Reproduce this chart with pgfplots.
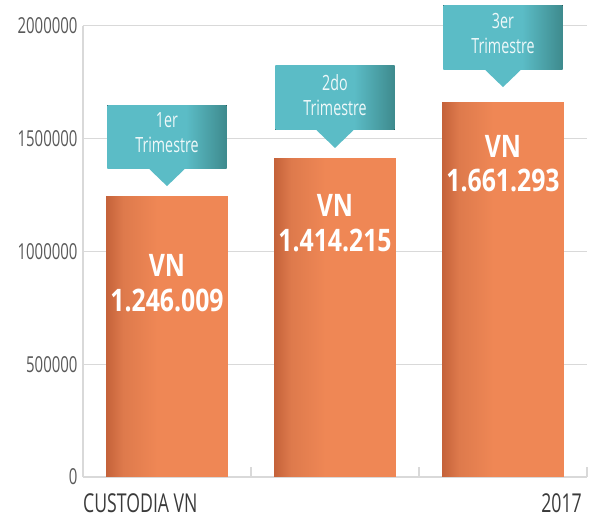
\documentclass[border=0pt]{standalone}
\usepackage{fontspec}
\setmainfont[FakeStretch=0.68]{Open Sans}
\newfontfamily\barfont[FakeStretch=0.8]{Open Sans}
\usepackage{pgfplots}
\pgfplotsset{compat=1.18}
\definecolor{barmain}{HTML}{EF8755}
\definecolor{bardark}{HTML}{C4623A}
\definecolor{barmid}{HTML}{DE7A4C}
\definecolor{tealmain}{HTML}{5BBCC6}
\definecolor{tealdark}{HTML}{3E8A8D}
\definecolor{gridc}{HTML}{D9D9D9}
\definecolor{tickc}{HTML}{595959}
\definecolor{labc}{HTML}{3A3A3A}
\definecolor{calltext}{HTML}{EEF8F9}
\pgfdeclarehorizontalshading{barshade}{100bp}{color(0bp)=(bardark); color(25bp)=(bardark); color(32bp)=(barmid); color(46bp)=(barmain); color(100bp)=(barmain)}
\pgfdeclarehorizontalshading{tealshade}{100bp}{color(0bp)=(tealmain); color(25bp)=(tealmain); color(58bp)=(tealmain); color(75bp)=(tealdark); color(100bp)=(tealdark)}
\begin{document}
\begin{tikzpicture}
\begin{axis}[
  name=ax,
  scale only axis, width=504pt, height=451pt,
  xmin=-0.5, xmax=2.5, ymin=0, ymax=2000000,
  axis x line*=bottom, axis y line*=left,
  axis line style={draw=gridc, line width=1.5pt, -},
  xtick={-0.5,0.5,1.5,2.5}, xticklabels={},
  xtick style={draw=gridc, line width=1.2pt},
  major tick length=10pt, tick align=inside,
  ytick={0,500000,1000000,1500000,2000000},
  ytick style={draw=none},
  scaled y ticks=false,
  /pgf/number format/assume math mode=true,
  /pgf/number format/fixed, /pgf/number format/1000 sep={},
  yticklabel style={font=\fontsize{22}{24}\selectfont, text=tickc, xshift=-2pt},
  ymajorgrids, grid style={draw=gridc, line width=1pt},
  clip=false,
]
\addplot[ybar, bar width=0.726, bar shift=0pt, draw=none, shading=barshade] coordinates {(0,1246009)};
\addplot[ybar, bar width=0.726, bar shift=0pt, draw=none, shading=barshade] coordinates {(1,1414215)};
\addplot[ybar, bar width=0.726, bar shift=0pt, draw=none, shading=barshade] coordinates {(2,1661293)};

% bar texts
\node[font=\barfont\bfseries\fontsize{31}{34}\selectfont, text=white] at (axis cs:0,940000) {VN};
\node[font=\barfont\bfseries\fontsize{31}{34}\selectfont, text=white] at (axis cs:0,785000) {1.246.009};
\node[font=\barfont\bfseries\fontsize{31}{34}\selectfont, text=white] at (axis cs:1,1206000) {VN};
\node[font=\barfont\bfseries\fontsize{31}{34}\selectfont, text=white] at (axis cs:1,1051000) {1.414.215};
\node[font=\barfont\bfseries\fontsize{31}{34}\selectfont, text=white] at (axis cs:2,1468000) {VN};
\node[font=\barfont\bfseries\fontsize{31}{34}\selectfont, text=white] at (axis cs:2,1317000) {1.661.293};

% callouts
\fill[shading=tealshade] (axis cs:-0.355,1370000) rectangle (axis cs:0.355,1649000);
\fill[tealmain] (axis cs:-0.11,1369000) -- (axis cs:0,1290000) -- (axis cs:0.11,1369000) -- cycle;
\node[font=\fontsize{21}{25}\selectfont, text=calltext, align=center] at (axis cs:0,1528000) {1er\\Trimestre};

\fill[shading=tealshade] (axis cs:0.645,1539000) rectangle (axis cs:1.355,1823000);
\fill[tealmain] (axis cs:0.89,1538000) -- (axis cs:1,1459000) -- (axis cs:1.11,1538000) -- cycle;
\node[font=\fontsize{21}{25}\selectfont, text=calltext, align=center] at (axis cs:1,1694000) {2do\\Trimestre};

\fill[shading=tealshade] (axis cs:1.645,1809000) rectangle (axis cs:2.355,2093000);
\fill[tealmain] (axis cs:1.89,1808000) -- (axis cs:2,1729000) -- (axis cs:2.11,1808000) -- cycle;
\node[font=\fontsize{21}{25}\selectfont, text=calltext, align=center] at (axis cs:2,1967000) {3er\\Trimestre};

% category labels
\node[anchor=base west, inner sep=0pt, font=\fontsize{26}{28}\selectfont, text=labc] at ([yshift=-36pt]rel axis cs:0,0) {CUSTODIA VN};
\node[anchor=base east, inner sep=0pt, font=\fontsize{26}{28}\selectfont, text=labc] at ([xshift=-5pt,yshift=-36pt]rel axis cs:1,0) {2017};
\end{axis}
\path[use as bounding box] ([xshift=-83pt,yshift=-41pt]ax.south west) rectangle ([xshift=7pt,yshift=26pt]ax.north east);
\end{tikzpicture}
\end{document}
